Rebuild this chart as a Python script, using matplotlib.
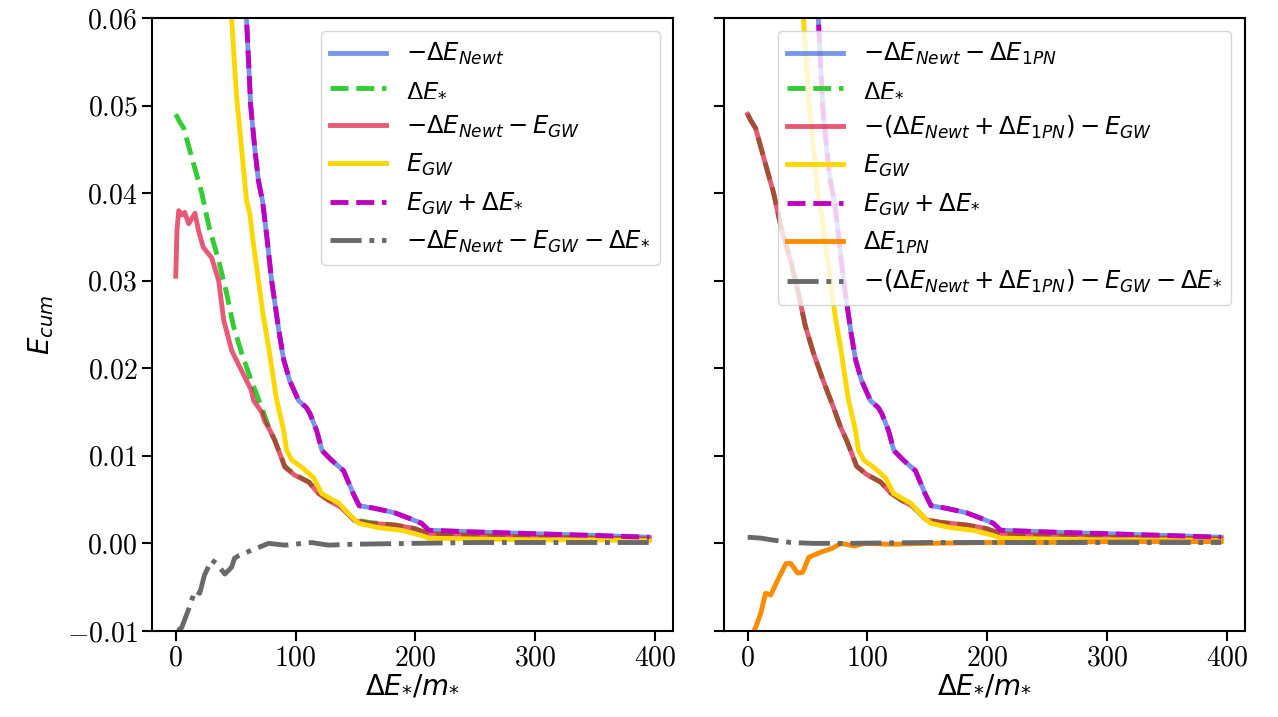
import matplotlib as mpl
import matplotlib.pyplot as plt

mpl.use("Agg")
mpl.rcParams.update(
    {
        "font.family": "cmr10",
        "mathtext.fontset": "dejavusans",
        "axes.formatter.use_mathtext": True,
        "font.size": 20,
        "axes.linewidth": 1.5,
        "xtick.major.size": 7,
        "ytick.major.size": 7,
        "xtick.major.width": 1.5,
        "ytick.major.width": 1.5,
        "lines.linewidth": 3.5,
    }
)

# -dE_Newt (and E_GW + dE_*, which lies on top of it)
newt_x = [45, 52, 59, 62.5, 66, 69, 72.5, 76, 80, 86, 90, 95, 102.5, 109, 112, 117.5, 122,
          130, 140, 148, 153, 166, 182.5, 194, 205, 211, 250, 300, 350, 395]
newt_y = [0.085, 0.07, 0.060, 0.050, 0.045, 0.0414, 0.039, 0.035, 0.030, 0.0243, 0.021, 0.0186,
          0.0163, 0.0155, 0.0148, 0.0129, 0.0106, 0.0095, 0.0083, 0.0057, 0.0043, 0.0040, 0.0035,
          0.0029, 0.0023, 0.0015, 0.0013, 0.0011, 0.0009, 0.0007]

# E_GW
gw_x = [40, 46.7, 50.8, 55, 59, 61.7, 65, 69, 73, 77.5, 84, 90, 92.5, 97, 105, 115, 121.7,
        128, 136, 144, 152.5, 169, 188, 205, 211, 250, 300, 350, 395]
gw_y = [0.075, 0.0597, 0.0509, 0.045, 0.0392, 0.0377, 0.034, 0.030, 0.026, 0.0224, 0.0165,
        0.0129, 0.0106, 0.0095, 0.0087, 0.0075, 0.0057, 0.0052, 0.0046, 0.0034, 0.0023, 0.0018,
        0.0015, 0.0009, 0.0006, 0.0005, 0.0004, 0.0004, 0.0003]

# -dE_Newt - E_GW (left panel)
resid_x = [0, 1, 2.5, 5, 7.5, 10.8, 13, 16, 19, 23, 30, 35.8, 40, 46.7, 55, 63, 65, 71.7, 74,
           77.5, 82.5, 91, 99, 111, 119, 127.5, 138, 149, 161, 182.5, 199, 211, 250, 300, 350, 395]
resid_y = [0.0305, 0.0357, 0.038, 0.0375, 0.0378, 0.0365, 0.037, 0.0377, 0.0357, 0.0338, 0.0326,
           0.030, 0.0255, 0.022, 0.0197, 0.0175, 0.0163, 0.0150, 0.0140, 0.0132, 0.0118, 0.0087,
           0.0078, 0.0070, 0.0057, 0.0049, 0.0041, 0.0026, 0.0023, 0.0021, 0.0017, 0.0011, 0.0009,
           0.0007, 0.0006, 0.0005]

# dE_*
star_x = [0, 3, 6.7, 13.3, 21.7, 28, 35.8, 42.5, 48, 55, 63, 71.7, 77.5, 82.5, 91, 99, 111,
          119, 127.5, 138, 149, 161, 182.5, 199, 211, 250, 300, 350, 395]
star_y = [0.0490, 0.0482, 0.0474, 0.0441, 0.040, 0.036, 0.0323, 0.0285, 0.0249, 0.0217, 0.0186,
          0.0155, 0.0133, 0.0118, 0.0088, 0.0079, 0.0070, 0.0058, 0.0050, 0.0042, 0.0027, 0.0024,
          0.0021, 0.0017, 0.0011, 0.0009, 0.0007, 0.0006, 0.0005]

# -dE_Newt - E_GW - dE_*
bal_x = [0, 3, 5, 10.8, 16, 20, 24, 30, 34, 41, 46.7, 49, 52.5, 63, 77.5, 91, 113, 127.5, 147,
         197, 250, 300, 350, 395]
bal_y = [-0.0105, -0.0098, -0.0096, -0.0075, -0.0054, -0.0057, -0.0036, -0.0019, -0.0023, -0.0035,
         -0.0027, -0.0017, -0.0014, -0.0008, 0.0, -0.0002, 0.0001, -0.0002, -0.0001, 0.0, 0.0001,
         0.0001, 0.0001, 0.0001]

# right panel: dE_1PN and its balance
pn_x = [0, 3, 5, 6.7, 10.9, 15, 19.3, 25, 32, 36, 41.8, 46, 51, 61, 70, 78, 89, 97.5, 120, 150,
        200, 250, 300, 350, 395]
pn_y = [-0.016, -0.012, -0.0101, -0.0096, -0.0080, -0.0057, -0.0059, -0.0042, -0.0023, -0.0023,
        -0.0034, -0.0033, -0.0016, -0.0010, -0.0006, 0.0, -0.0003, 0.0, -0.0001, 0.0, 0.0001,
        0.0001, 0.0002, 0.0002, 0.0002]

bal_pn_x = [0, 11, 20, 36, 55, 80, 150, 250, 395]
bal_pn_y = [0.0007, 0.0006, 0.0004, 0.0001, 0.0, 0.0, 0.0001, 0.0001, 0.0001]

BLUE = "royalblue"
GREEN = "limegreen"
RED = "crimson"
GOLD = "gold"
MAG = "m"
GRAY = "dimgray"
ORANGE = "darkorange"

fig, (ax1, ax2) = plt.subplots(1, 2, sharey=True, figsize=(12.78, 7.17), dpi=100)
fig.subplots_adjust(left=0.119, right=0.974, bottom=0.12, top=0.975, wspace=0.098)

ax1.plot(newt_x, newt_y, color=BLUE, alpha=0.7, label=r"$-\Delta E_{Newt}$")
ax1.plot(star_x, star_y, color=GREEN, ls="--", label=r"$\Delta E_{*}$")
ax1.plot(resid_x, resid_y, color=RED, alpha=0.7, label=r"$-\Delta E_{Newt} - E_{GW}$")
ax1.plot(gw_x, gw_y, color=GOLD, label=r"$E_{GW}$")
ax1.plot(newt_x, newt_y, color=MAG, ls="--", label=r"$E_{GW} + \Delta E_{*}$")
ax1.plot(bal_x, bal_y, color=GRAY, ls="-.", label=r"$-\Delta E_{Newt} - E_{GW} - \Delta E_{*}$")

ax2.plot(newt_x, newt_y, color=BLUE, alpha=0.7, label=r"$-\Delta E_{Newt} - \Delta E_{1PN}$")
ax2.plot(star_x, star_y, color=GREEN, ls="--", label=r"$\Delta E_{*}$")
ax2.plot(star_x, star_y, color=RED, alpha=0.7,
         label=r"$-(\Delta E_{Newt} + \Delta E_{1PN}) - E_{GW}$")
ax2.plot(gw_x, gw_y, color=GOLD, label=r"$E_{GW}$")
ax2.plot(newt_x, newt_y, color=MAG, ls="--", label=r"$E_{GW} + \Delta E_{*}$")
ax2.plot(pn_x, pn_y, color=ORANGE, label=r"$\Delta E_{1PN}$")
ax2.plot(bal_pn_x, bal_pn_y, color=GRAY, ls="-.",
         label=r"$-(\Delta E_{Newt} + \Delta E_{1PN}) - E_{GW} - \Delta E_{*}$")

for ax in (ax1, ax2):
    ax.set_xlim(-19.75, 414.75)
    ax.set_xticks([0, 100, 200, 300, 400])
    ax.set_xlabel(r"$\Delta E_{*}/m_{*}$", fontsize=20, labelpad=1)
    ax.legend(loc="upper right", fontsize=17.5, handlelength=2.3,
              borderaxespad=0.55, framealpha=0.8)

ax1.set_ylim(-0.01, 0.06)
ax1.set_ylabel(r"$E_{cum}$", fontsize=20, labelpad=8)

fig.savefig("out.png", dpi=100)
